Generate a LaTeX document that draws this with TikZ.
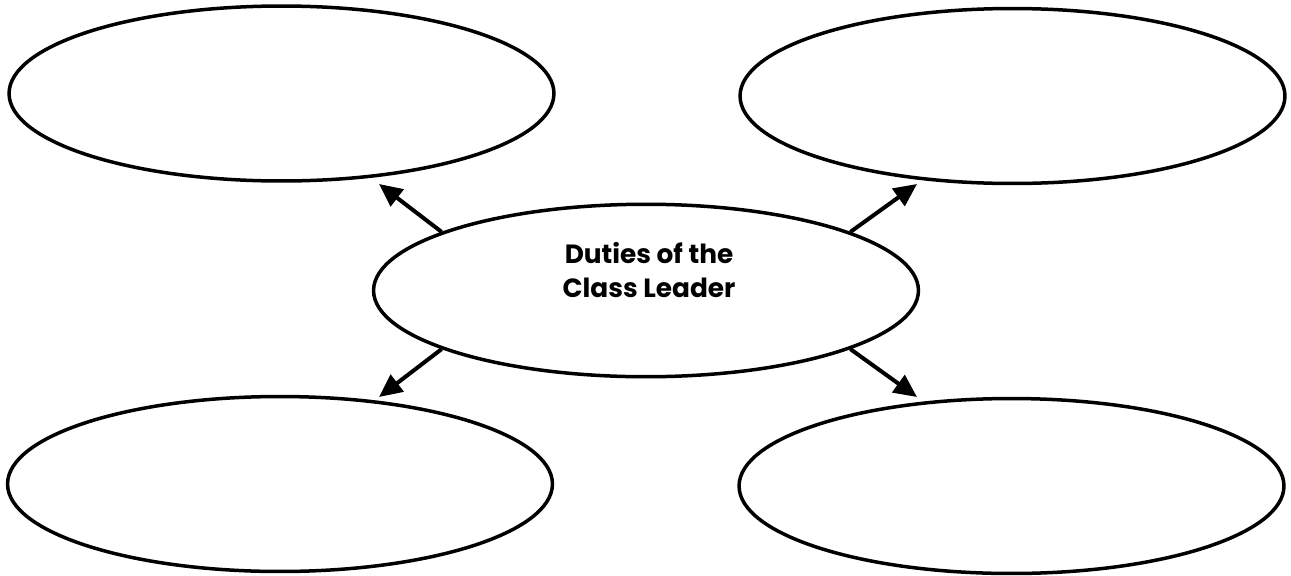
\documentclass[tikz,border=0pt]{standalone}
\usepackage{fontspec}
\setmainfont{Poppins}
\usetikzlibrary{positioning,shapes.geometric,arrows.meta}

\tikzset{
  duty/.style={draw=black, ellipse, line width=0.07cm, inner sep=0pt,
    minimum width=10.9cm, minimum height=3.5cm},
  hub/.style={duty, minimum height=3.45cm},
  caption/.style={align=center, inner sep=0pt,
    font=\fontsize{15}{19.5}\selectfont\bfseries},
  link/.style={line width=0.08cm, -{Triangle[length=0.46cm, width=0.42cm]}}
}

\begin{document}
\begin{tikzpicture}[x=0.02cm, y=-0.02cm]
\useasboundingbox (0,0) rectangle (1291,575);
% the four empty ellipses
\node [duty] (dutyTL) at (281.5,93.5) {};
\node [duty] (dutyTR) at (1012.5,96) {};
\node [duty] (dutyBL) at (280,484) {};
\node [duty] (dutyBR) at (1011.5,486) {};
% the middle one
\node [hub] (hub) at (646,290.5) {};
\node [caption] (hubText) at (649,270) {Duties of the\\Class Leader};
% arrow tips
\coordinate (tipTL) at (379,184);
\coordinate (tipTR) at (917,184);
\coordinate (tipBL) at (379,397);
\coordinate (tipBR) at (917,397);
\draw [link] (hub.164) -- (tipTL);
\draw [link] (hub.16) -- (tipTR);
\draw [link] (hub.196) -- (tipBL);
\draw [link] (hub.-16) -- (tipBR);
\end{tikzpicture}
\end{document}
